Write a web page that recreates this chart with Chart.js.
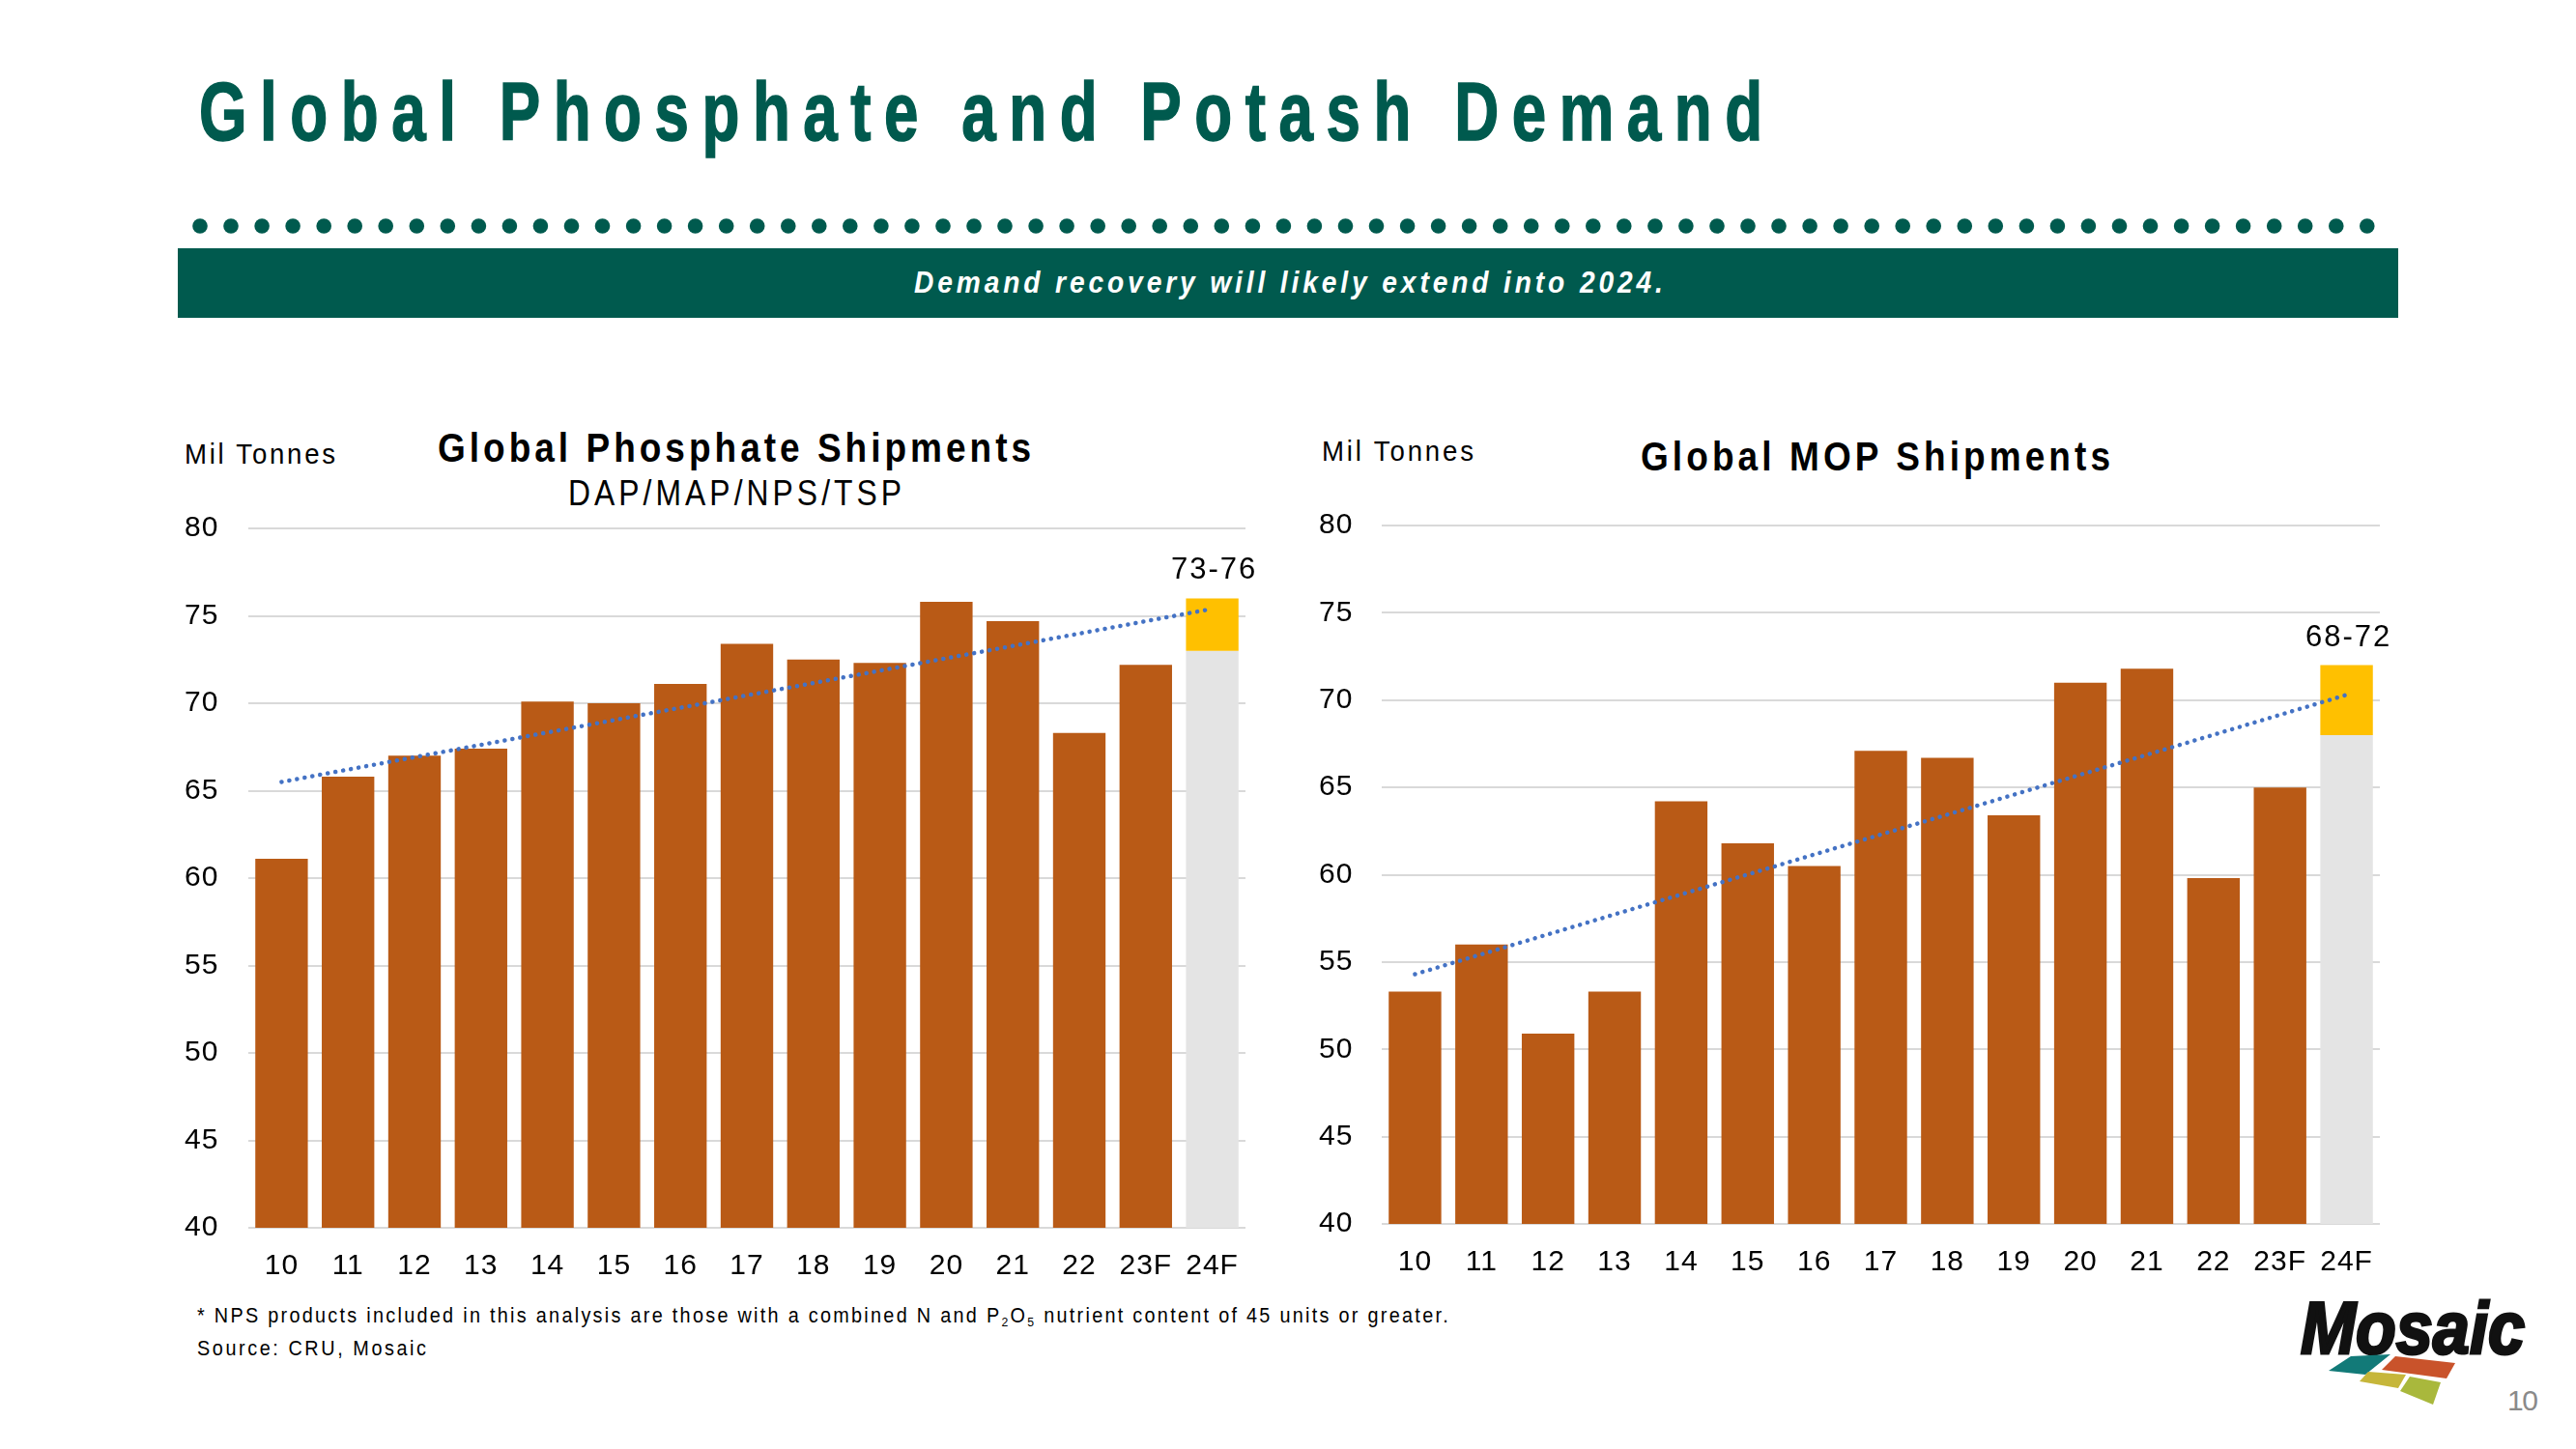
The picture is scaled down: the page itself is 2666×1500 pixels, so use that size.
<!DOCTYPE html>
<html>
<head>
<meta charset="utf-8">
<title>Global Phosphate and Potash Demand</title>
<script src="https://cdn.jsdelivr.net/npm/chart.js@4.4.1/dist/chart.umd.min.js"></script>
<style>
  html, body { margin:0; padding:0; background:#fff; }
  body { position:relative; width:2666px; height:1500px; overflow:hidden; font-family:"Liberation Sans", Arial, sans-serif; color:#000; }
  .t { position:absolute; white-space:nowrap; line-height:1; display:inline-block; transform-origin:0 0; }
  #title { font-weight:bold; color:#005A4E; -webkit-text-stroke:1.6px #005A4E; }
  #banner { position:absolute; left:184px; top:257px; width:2298px; height:72px; background:#005A4E; }
  .bt { color:#fff; font-weight:bold; font-style:italic; }
  .b { font-weight:bold; }
  canvas { position:absolute; }
  #leftChart { left:180px; top:520px; }
  #rightChart { left:1350px; top:520px; }
  sub { font-size:0.62em; vertical-align:-0.3em; line-height:0; }
  #deco { position:absolute; left:0; top:0; }
</style>
</head>
<body>
<svg id="deco" width="2666" height="1500" xmlns="http://www.w3.org/2000/svg">
  <g id="dotRow" fill="#005A4E"></g>
  <g id="logo">
    <text x="2381" y="1401" font-family="Liberation Sans, Arial, sans-serif" font-weight="bold" font-style="italic" font-size="76" textLength="232" lengthAdjust="spacingAndGlyphs" fill="#111" stroke="#111" stroke-width="3">Mosaic</text>
    <polygon points="2433,1404 2474,1402 2448,1423 2410,1419" fill="#127A78"/>
    <polygon points="2479,1404 2541,1411 2532,1427 2465,1418" fill="#C9532B"/>
    <polygon points="2451,1420 2490,1423 2482,1437 2442,1430" fill="#C6B63A"/>
    <polygon points="2494,1425 2526,1431 2518,1454 2484,1440" fill="#A9B83C"/>
  </g>
</svg>
<div id="banner"></div>
<span class="t" id="title">Global Phosphate and Potash Demand</span>
<span class="t bt" id="bannerText">Demand recovery will likely extend into 2024.</span>
<span class="t" id="lUnit">Mil Tonnes</span>
<span class="t b" id="lTitle">Global Phosphate Shipments</span>
<span class="t" id="lSub">DAP/MAP/NPS/TSP</span>
<span class="t" id="rUnit">Mil Tonnes</span>
<span class="t b" id="rTitle">Global MOP Shipments</span>
<span class="t" id="foot1">* NPS products included in this analysis are those with a combined N and P<sub>2</sub>O<sub>5</sub> nutrient content of 45 units or greater.</span>
<span class="t" id="foot2">Source: CRU, Mosaic</span>
<span class="t" id="pageNum">10</span>
<canvas id="leftChart" width="1130" height="820"></canvas>
<canvas id="rightChart" width="1130" height="820"></canvas>
<script>
// ---------------- DATA ----------------
const years = ['10','11','12','13','14','15','16','17','18','19','20','21','22','23F','24F'];
const yTickValues = [40, 45, 50, 55, 60, 65, 70, 75, 80];

// Global Phosphate Shipments (DAP/MAP/NPS/TSP), Mil Tonnes
const phosActual       = [61.1, 65.8, 67.0, 67.4, 70.1, 70.0, 71.1, 73.4, 72.5, 72.3, 75.8, 74.7, 68.3, 72.2, null];
const phosForecastLow  = [null, null, null, null, null, null, null, null, null, null, null, null, null, null, 73];
const phosForecastHigh = [null, null, null, null, null, null, null, null, null, null, null, null, null, null, 76];
const phosTrend        = [65.5, null, null, null, null, null, null, null, null, null, null, null, null, null, 75.4];

// Global MOP Shipments, Mil Tonnes
const mopActual        = [53.3, 56.0, 50.9, 53.3, 64.2, 61.8, 60.5, 67.1, 66.7, 63.4, 71.0, 71.8, 59.8, 65.0, null];
const mopForecastLow   = [null, null, null, null, null, null, null, null, null, null, null, null, null, null, 68];
const mopForecastHigh  = [null, null, null, null, null, null, null, null, null, null, null, null, null, null, 72];
const mopTrend         = [54.3, null, null, null, null, null, null, null, null, null, null, null, null, null, 70.3];

// ---------------- DECOR ----------------
(function () {
  const g = document.getElementById('dotRow');
  const ns = 'http://www.w3.org/2000/svg';
  for (let i = 0; i < 71; i++) {
    const c = document.createElementNS(ns, 'circle');
    c.setAttribute('cx', (207 + i * 32.04).toFixed(1));
    c.setAttribute('cy', '234');
    c.setAttribute('r', '7.8');
    g.appendChild(c);
  }
})();

// ---------------- TEXT LAYOUT ----------------
const textLayout = [
  { id: 'title',      fs: 86, left: 206,  base: 145,  width: 1618, scale: 0.74 },
  { id: 'bannerText', fs: 32, cx: 1333,   base: 303,  width: 775,  scale: 0.88 },
  { id: 'lUnit',      fs: 30, left: 191,  base: 480,  width: 156,  scale: 0.92 },
  { id: 'lTitle',     fs: 43, cx: 760,    base: 478,  width: 614,  scale: 0.86 },
  { id: 'lSub',       fs: 37, cx: 760,    base: 523,  width: 345,  scale: 0.86 },
  { id: 'rUnit',      fs: 30, left: 1368, base: 477,  width: 157,  scale: 0.92 },
  { id: 'rTitle',     fs: 43, cx: 1941,   base: 487,  width: 486,  scale: 0.86 },
  { id: 'foot1',      fs: 22, left: 204,  base: 1370, width: 1295, scale: 0.9 },
  { id: 'foot2',      fs: 22, left: 204,  base: 1404, width: 237,  scale: 0.9 },
  { id: 'pageNum',    fs: 30, left: 2595, base: 1460, width: 32, color: '#8a8a8a' }
];
function layoutTexts() {
  textLayout.forEach(t => {
    const el = document.getElementById(t.id);
    const s = t.scale || 1;
    el.style.fontSize = t.fs + 'px';
    el.style.letterSpacing = '0px';
    if (t.color) el.style.color = t.color;
    el.style.transform = 'scaleX(' + s + ')';
    const natural = el.getBoundingClientRect().width / s;
    const n = el.textContent.length;
    const ls = (t.width / s - natural) / (n - 1);
    el.style.letterSpacing = ls.toFixed(2) + 'px';
    const left = (t.left !== undefined) ? t.left : t.cx - t.width / 2;
    el.style.left = left + 'px';
    el.style.top = (t.base - 0.8465 * t.fs) + 'px';
  });
}
layoutTexts();

// ---------------- CHARTS ----------------
Chart.defaults.font.family = "'Liberation Sans', Arial, sans-serif";
Chart.defaults.color = '#000';

const spacingPlugin = {
  id: 'spacing',
  beforeDraw(chart) { chart.ctx.letterSpacing = '1px'; }
};

const rangeLabelPlugin = {
  id: 'rangeLabel',
  afterDatasetsDraw(chart) {
    const ds = chart.data.datasets.find(d => d.isRange);
    if (!ds) return;
    const ctx = chart.ctx;
    const xs = chart.scales.x, ys = chart.scales.y;
    ds.data.forEach((v, i) => {
      if (!v) return;
      const x = xs.getPixelForValue(i);
      const y = ys.getPixelForValue(v[1]);
      ctx.save();
      ctx.letterSpacing = '2px';
      ctx.font = "31px 'Liberation Sans', Arial, sans-serif";
      ctx.fillStyle = '#000';
      ctx.textAlign = 'center';
      ctx.textBaseline = 'alphabetic';
      ctx.fillText(v[0] + '-' + v[1], x + 2, y - 20);
      ctx.restore();
    });
  }
};

// geo: plot-area edges and label offsets inside each 1130x820 canvas
function makeChart(canvasId, actual, low, high, trend, geo) {
  const range = low.map((v, i) => (v === null ? null : [v, high[i]]));
  const chart = new Chart(document.getElementById(canvasId), {
    type: 'bar',
    data: {
      labels: years,
      datasets: [
        { type: 'line', data: trend, borderColor: '#4472C4', borderWidth: 4.5,
          borderDash: [0.1, 8], borderCapStyle: 'round', pointRadius: 0,
          spanGaps: true, fill: false, tension: 0, order: 0 },
        { data: actual, backgroundColor: '#B95A16', grouped: false, order: 2 },
        { data: low, backgroundColor: '#E4E4E4', grouped: false, order: 3 },
        { data: range, backgroundColor: '#FFC000', grouped: false, order: 1, isRange: true }
      ]
    },
    options: {
      responsive: false,
      animation: false,
      devicePixelRatio: 1,
      layout: { padding: { top: geo.top, right: geo.right, left: geo.labelLeft, bottom: 0 } },
      plugins: { legend: { display: false }, tooltip: { enabled: false }, title: { display: false } },
      datasets: { bar: { categoryPercentage: 1, barPercentage: 0.79 } },
      scales: {
        x: {
          grid: { display: false, drawTicks: false },
          border: { display: false },
          ticks: { font: { size: 30 }, padding: geo.xPad, maxRotation: 0, autoSkip: false, color: '#000' },
          afterFit(s) { s.height = 820 - geo.bottom; }
        },
        y: {
          min: 40, max: 80,
          afterBuildTicks(s) { s.ticks = yTickValues.map(v => ({ value: v })); },
          ticks: { font: { size: 30 }, padding: 0, crossAlign: 'far', color: '#000' },
          grid: { color: '#D9D9D9', lineWidth: 2, drawTicks: false },
          border: { display: false },
          afterFit(s) { s.width = geo.left - geo.labelLeft; }
        }
      }
    },
    plugins: [spacingPlugin, rangeLabelPlugin]
  });
  // nudge the layout padding so the plot area lands where the reference has it
  for (let k = 0; k < 3; k++) {
    const ca = chart.chartArea;
    const p = chart.options.layout.padding;
    const dTop = geo.top - ca.top;
    const dRight = ca.right - (1130 - geo.right);
    if (Math.abs(dTop) < 0.5 && Math.abs(dRight) < 0.5) break;
    p.top = Math.max(0, p.top + dTop);
    p.right = Math.max(0, p.right + dRight);
    chart.update();
  }
  return chart;
}

makeChart('leftChart', phosActual, phosForecastLow, phosForecastHigh, phosTrend,
  { top: 27, right: 21, left: 77, labelLeft: 11, bottom: 751, xPad: 22 });
makeChart('rightChart', mopActual, mopForecastLow, mopForecastHigh, mopTrend,
  { top: 24, right: 17, left: 80, labelLeft: 15, bottom: 747, xPad: 22 });
</script>
</body>
</html>
